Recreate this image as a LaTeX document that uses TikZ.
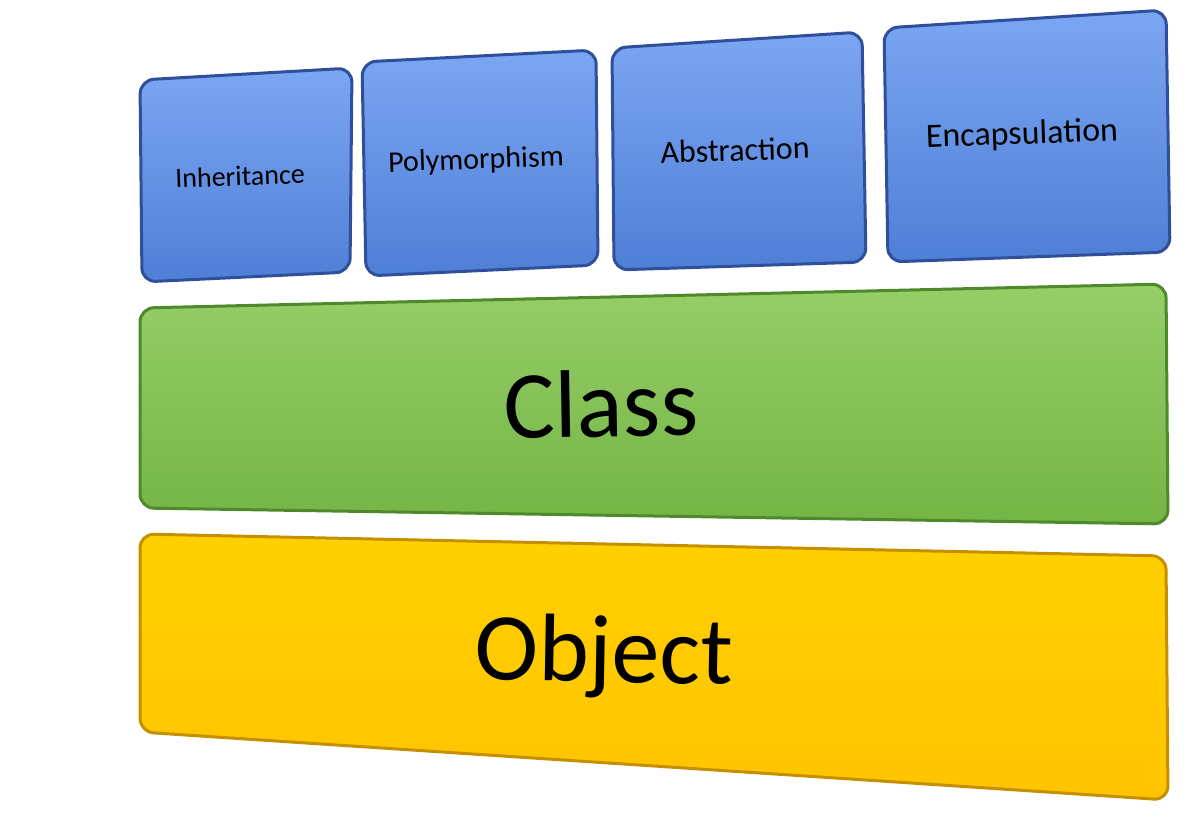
\documentclass[tikz,border=0pt]{standalone}
\usepackage{fontspec}
\setmainfont{Carlito}
\definecolor{btop}{HTML}{7BA6F2}
\definecolor{bbot}{HTML}{4F7FD6}
\definecolor{bedge}{HTML}{2F4F9A}
\definecolor{gtop}{HTML}{96CE68}
\definecolor{gbot}{HTML}{74B545}
\definecolor{gedge}{HTML}{4E8A2C}
\definecolor{ytop}{HTML}{FFD000}
\definecolor{ybot}{HTML}{FFC400}
\definecolor{yedge}{HTML}{C49000}
\begin{document}
\begin{tikzpicture}[x=1pt,y=-1pt,
  bx/.style={rounded corners=14pt,line width=3pt},
  blue box/.style={bx,draw=bedge,top color=btop,bottom color=bbot},
  green box/.style={bx,draw=gedge,top color=gtop,bottom color=gbot},
  yellow box/.style={bx,draw=yedge,top color=ytop,bottom color=ybot},
  lbl/.style={font=\fontsize{#1}{#1}\selectfont,text=black}]
\useasboundingbox (0,0) rectangle (1200,812);
\draw[blue box] (140,80) -- (352,68) -- (350,272) -- (142,282) -- cycle;
\draw[blue box] (362,62) -- (596,50) -- (598,265) -- (366,276) -- cycle;
\draw[blue box] (612,48) -- (862,32) -- (866,262) -- (614,270) -- cycle;
\draw[blue box] (884,28) -- (1166,10) -- (1170,252) -- (888,262) -- cycle;
\draw[green box] (140,308) -- (1166,284) -- (1168,524) -- (140,508) -- cycle;
\draw[yellow box] (140,534) -- (1166,556) -- (1168,800) -- (140,732) -- cycle;
\node[lbl=28,rotate=2] (inh) at (240,176) {Inheritance};
\node[lbl=30,rotate=2] (poly) at (476,161) {Polymorphism};
\node[lbl=32,rotate=2] (abs) at (735,150) {Abstraction};
\node[lbl=34,rotate=2] (enc) at (1022,135) {Encapsulation};
\node[lbl=96,rotate=1] (cls) at (601,404) {Class};
\node[lbl=96,rotate=-1] (obj) at (604,657) {Object};
\end{tikzpicture}
\end{document}
